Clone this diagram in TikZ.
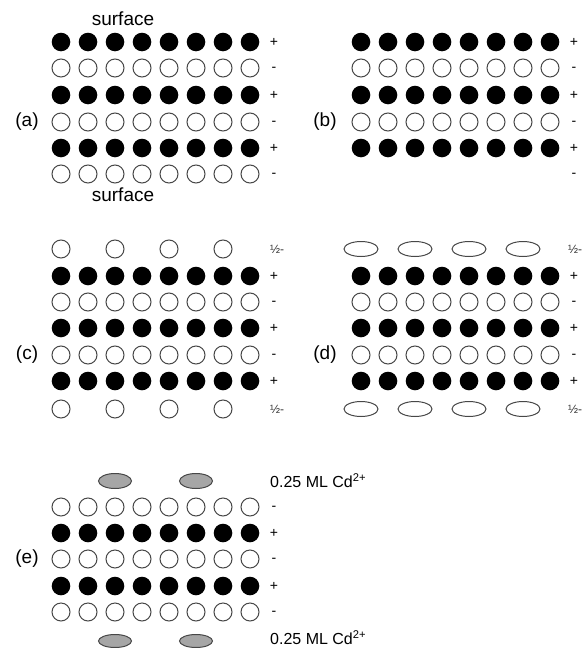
\documentclass[tikz,border=0pt]{standalone}
\usepackage{fontspec}
\setmainfont{Liberation Sans}
\newcommand\PosRow[2]{\foreach \k in {0,...,7} {\fill[posion] (#1+27*\k,#2) circle (9.3pt);}}
\newcommand\NegRow[2]{\foreach \k in {0,...,7} {\draw[negion] (#1+27*\k,#2) circle (9.0pt);}}
\begin{document}
\begin{tikzpicture}[x=1pt,y=-1pt,
  posion/.style={fill=black},
  negion/.style={draw=black!72, fill=white, line width=1pt},
  halfion/.style={draw=black!72, fill=white, line width=1pt},
  cdion/.style={draw=black!72, fill=black!35, line width=1pt},
  lbl/.style={font=\fontsize{19}{22}\selectfont, inner sep=0pt},
  sgn/.style={font=\fontsize{14}{16}\selectfont, inner sep=0pt},
  half/.style={font=\fontsize{12}{14}\selectfont, inner sep=0pt, anchor=west, text=black!80},
  cdlbl/.style={font=\fontsize{16}{18}\selectfont, inner sep=0pt, anchor=west}]
\useasboundingbox (0,0) rectangle (587,648);
% ---------- (a)
\node[lbl] (surftop) at (123,19) {surface};
\node[lbl] (surfbot) at (123,195) {surface};
\node[lbl] (la) at (27,122) {(a)};
\PosRow{61}{42}
\NegRow{61}{68}
\PosRow{61}{95}
\NegRow{61}{122}
\PosRow{61}{148}
\NegRow{61}{174}
\node[sgn] (a1) at (274,42) {+};
\node[sgn] (a2) at (274,69) {-};
\node[sgn] (a3) at (274,95) {+};
\node[sgn] (a4) at (274,123) {-};
\node[sgn] (a5) at (274,148) {+};
\node[sgn] (a6) at (274,175) {-};
% ---------- (b)
\node[lbl] (lb) at (325,122) {(b)};
\PosRow{361}{42}
\NegRow{361}{68}
\PosRow{361}{95}
\NegRow{361}{122}
\PosRow{361}{148}
\node[sgn] (b1) at (574,42) {+};
\node[sgn] (b2) at (574,69) {-};
\node[sgn] (b3) at (574,95) {+};
\node[sgn] (b4) at (574,123) {-};
\node[sgn] (b5) at (574,148) {+};
\node[sgn] (b6) at (574,175) {-};
% ---------- (c)
\node[lbl] (lc) at (27,355) {(c)};
\foreach \k in {0,2,4,6} {\draw[halfion] (61+27*\k,249) circle (9.0pt);}
\PosRow{61}{276}
\NegRow{61}{302}
\PosRow{61}{328}
\NegRow{61}{355}
\PosRow{61}{381}
\foreach \k in {0,2,4,6} {\draw[halfion] (61+27*\k,409) circle (9.0pt);}
\node[half] (c0) at (270,249) {½-};
\node[sgn] (c1) at (274,276) {+};
\node[sgn] (c2) at (274,303) {-};
\node[sgn] (c3) at (274,328) {+};
\node[sgn] (c4) at (274,356) {-};
\node[sgn] (c5) at (274,381) {+};
\node[half] (c6) at (270,409) {½-};
% ---------- (d)
\node[lbl] (ld) at (325,355) {(d)};
\foreach \k in {0,2,4,6} {\draw[halfion] (361+27*\k,249) ellipse [x radius=17pt, y radius=7.5pt];}
\PosRow{361}{276}
\NegRow{361}{302}
\PosRow{361}{328}
\NegRow{361}{355}
\PosRow{361}{381}
\foreach \k in {0,2,4,6} {\draw[halfion] (361+27*\k,409) ellipse [x radius=17pt, y radius=7.5pt];}
\node[half] (d0) at (568,249) {½-};
\node[sgn] (d1) at (574,276) {+};
\node[sgn] (d2) at (574,303) {-};
\node[sgn] (d3) at (574,328) {+};
\node[sgn] (d4) at (574,356) {-};
\node[sgn] (d5) at (574,381) {+};
\node[half] (d6) at (568,409) {½-};
% ---------- (e)
\node[lbl] (le) at (27,559) {(e)};
\foreach \k in {2,5} {\draw[cdion] (61+27*\k,481) ellipse [x radius=16.5pt, y radius=7.5pt];}
\NegRow{61}{507}
\PosRow{61}{533}
\NegRow{61}{559}
\PosRow{61}{586}
\NegRow{61}{612}
\foreach \k in {2,5} {\draw[cdion] (61+27*\k,641) ellipse [x radius=16.5pt, y radius=6.5pt];}
\node[cdlbl] (e0) at (270,481) {0.25 ML Cd\textsuperscript{2+}};
\node[sgn] (e1) at (274,508) {-};
\node[sgn] (e2) at (274,533) {+};
\node[sgn] (e3) at (274,560) {-};
\node[sgn] (e4) at (274,586) {+};
\node[sgn] (e5) at (274,613) {-};
\node[cdlbl] (e6) at (270,638) {0.25 ML Cd\textsuperscript{2+}};
\end{tikzpicture}
\end{document}
